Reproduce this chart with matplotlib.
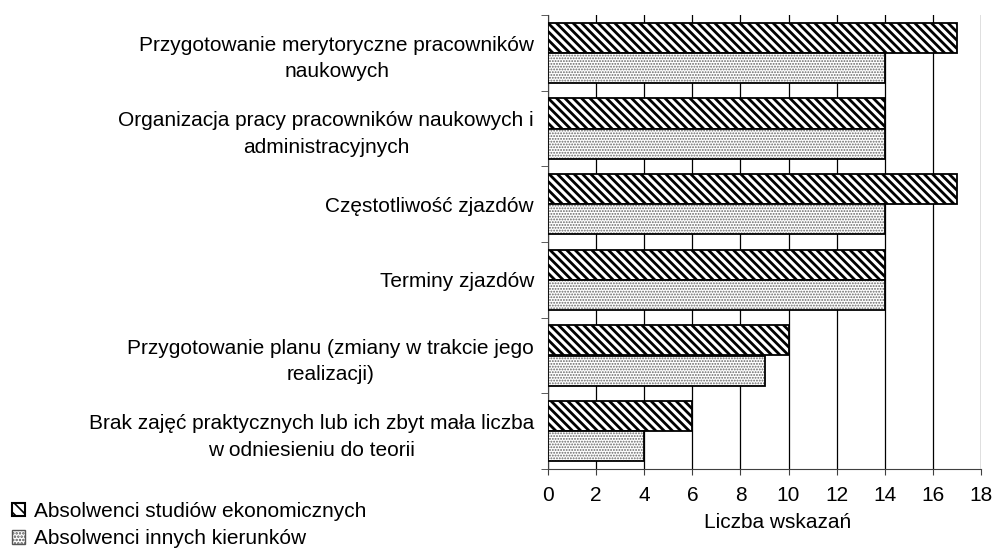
import numpy as np
import matplotlib.pyplot as plt
from matplotlib.patches import Patch

plt.rcParams['font.family'] = ['Liberation Sans', 'DejaVu Sans']

categories = [
    'Przygotowanie merytoryczne pracowników\nnaukowych',
    'Organizacja pracy pracowników naukowych i\nadministracyjnych',
    'Częstotliwość zjazdów',
    'Terminy zjazdów',
    'Przygotowanie planu (zmiany w trakcie jego\nrealizacji)',
    'Brak zajęć praktycznych lub ich zbyt mała liczba\nw odniesieniu do teorii',
]
ekonomiczne = [17, 14, 17, 14, 10, 6]
inne = [14, 14, 14, 14, 9, 4]
series_names = ['Absolwenci studiów ekonomicznych', 'Absolwenci innych kierunków']

FS = 15
fig = plt.figure(figsize=(9.94, 5.5), dpi=100)
ax = fig.add_axes([548 / 994, 1 - 469 / 550, 433 / 994, 454 / 550])

y = np.arange(len(categories))
h = 0.4
# hatched series - thick diagonal stripes
plt.rcParams['hatch.linewidth'] = 2.0
ax.barh(y - h / 2, ekonomiczne, height=h, color='white', edgecolor='black',
        hatch='\\\\\\\\', linewidth=1.3, zorder=3)
# dotted series - grey dots, black outline drawn on top
plt.rcParams['hatch.linewidth'] = 0.9
ax.barh(y + h / 2, inne, height=h, color='white', edgecolor='#666666',
        hatch='......', linewidth=0, zorder=3)
ax.barh(y + h / 2, inne, height=h, fill=False, edgecolor='black',
        linewidth=1.3, zorder=4)

ax.set_xlim(0, 18)
ax.set_ylim(len(categories) - 0.5, -0.5)
ax.set_xticks(np.arange(0, 19, 2))
ax.set_yticks(y)
ax.set_yticklabels(categories, fontsize=FS, multialignment='center', linespacing=1.5)
ax.set_yticks(np.arange(-0.5, len(categories), 1), minor=True)
ax.tick_params(axis='y', which='major', length=0, pad=10)
ax.tick_params(axis='y', which='minor', length=5, color='#404040')
ax.tick_params(axis='x', length=4.5, labelsize=FS, pad=8, color='#404040')
ax.set_xlabel('Liczba wskazań', fontsize=FS)
ax.xaxis.set_label_coords((778 - 548) / 433, -(522 - 469) / 454)
ax.xaxis.label.set_va('center')
ax.xaxis.grid(True, color='black', linewidth=0.9, zorder=0)
ax.set_axisbelow(True)
for s in ['top', 'right']:
    ax.spines[s].set_visible(False)
for s in ['left', 'bottom']:
    ax.spines[s].set_color('#404040')

plt.rcParams['hatch.linewidth'] = 1.2
handles = [Patch(facecolor='white', edgecolor='black', hatch='\\\\\\', linewidth=1.5),
           Patch(facecolor='white', edgecolor='#555555', hatch='.....')]
fig.legend(handles, series_names, loc='upper left', bbox_to_anchor=(12 / 994, 1 - 502 / 550),
           frameon=False, fontsize=FS, handlelength=0.6, handleheight=0.6,
           handletextpad=0.45, labelspacing=0.4, borderaxespad=0, borderpad=0)

fig.savefig('out.png', dpi=100)
